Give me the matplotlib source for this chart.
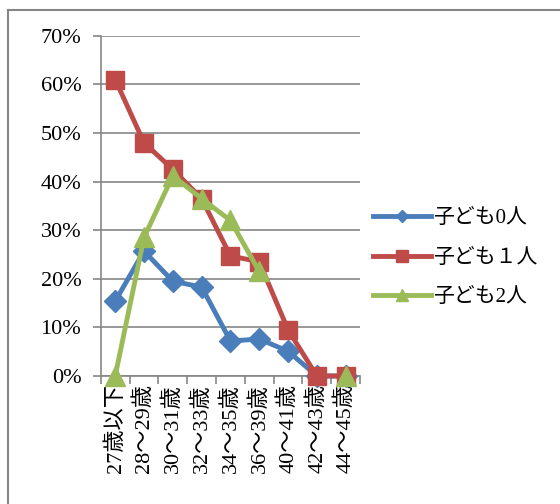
import numpy as np
import matplotlib.pyplot as plt
from matplotlib.lines import Line2D

plt.rcParams['font.family'] = ['Liberation Serif', 'Noto Sans CJK JP']

categories = ["27歳以下", "28〜29歳", "30〜31歳", "32〜33歳", "34〜35歳",
              "36〜39歳", "40〜41歳", "42〜43歳", "44〜45歳"]
child0 = [15.4, 25.7, 19.5, 18.3, 7.2, 7.6, 5.1, 0.0, 0.0]
child1 = [61.0, 48.0, 42.5, 36.5, 24.7, 23.5, 9.5, 0.0, 0.0]
child2 = [0.0, 28.5, 41.2, 36.5, 32.0, 21.5, np.nan, np.nan, 0.0]
labels = ["子ども0人", "子ども１人", "子ども2人"]

c_blue = "#4A7EBB"
c_red = "#BE4B48"
c_green = "#9BBB59"
c_grid = "#868686"

fig = plt.figure(figsize=(5.6, 5.04), dpi=100)
ax = fig.add_axes([0.180, 0.254, 0.463, 0.675])

x = np.arange(len(categories))
ax.plot(x, child0, color=c_blue, lw=3.5, marker='D', ms=11, zorder=3, clip_on=False)
ax.plot(x, child1, color=c_red, lw=3.5, marker='s', ms=13, zorder=4, clip_on=False)
ax.plot(x, child2, color=c_green, lw=3.5, marker='^', ms=14, zorder=5, clip_on=False)

ax.set_xlim(-0.5, len(categories) - 0.5)
ax.set_ylim(0, 70)
ax.set_yticks(np.arange(0, 71, 10))
ax.set_yticklabels([f"{v}%" for v in range(0, 71, 10)], fontsize=16)
ax.set_xticks(x)
ax.set_xticklabels(categories, rotation=90, fontsize=16)
ax.tick_params(axis='x', length=0, pad=6)
ax.set_xticks(np.arange(-0.5, len(categories)), minor=True)
ax.tick_params(axis='x', which='minor', length=6, color=c_grid, width=1.2)
ax.tick_params(axis='y', length=6, color=c_grid, width=1.2, pad=8)

ax.yaxis.grid(True, color=c_grid, lw=1.2)
ax.set_axisbelow(True)
for s in ['top', 'right']:
    ax.spines[s].set_visible(False)
for s in ['left', 'bottom']:
    ax.spines[s].set_color(c_grid)
    ax.spines[s].set_linewidth(1.2)

handles = [
    Line2D([], [], color=c_blue, lw=3.5, marker='D', ms=6),
    Line2D([], [], color=c_red, lw=3.5, marker='s', ms=8),
    Line2D([], [], color=c_green, lw=3.5, marker='^', ms=8),
]
fig.legend(handles, labels, loc='center left', bbox_to_anchor=(0.632, 0.488),
           frameon=False, fontsize=15, handlelength=2.8, labelspacing=0.95,
           handletextpad=0.1)

# outer chart border (left and top edges)
fig.add_artist(Line2D([8 / 560, 8 / 560], [0, 1 - 10 / 504], transform=fig.transFigure,
                      color=c_grid, lw=1.5))
fig.add_artist(Line2D([8 / 560, 1], [1 - 10 / 504, 1 - 10 / 504], transform=fig.transFigure,
                      color=c_grid, lw=1.5))

fig.savefig("out.png", dpi=100)
